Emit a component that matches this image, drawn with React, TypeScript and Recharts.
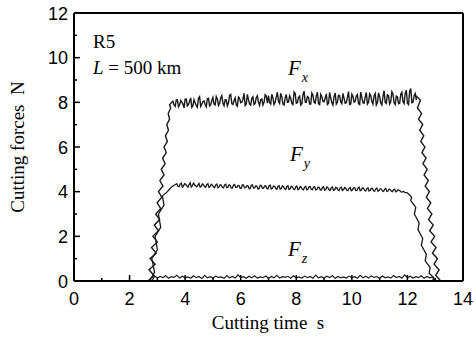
import { Line, LineChart, ReferenceLine, XAxis, YAxis } from "recharts";

// time grid (s) and force readings (N)
const xTicks = [0, 1, 2, 3, 4, 5, 6, 7, 8, 9, 10, 11, 12, 13, 14];
const yTicks = [0, 1, 2, 3, 4, 5, 6, 7, 8, 9, 10, 11, 12];

const fxRiseTime = [
  0, 2.66, 2.88, 2.7, 2.92, 2.74, 2.96, 2.79, 3.0, 2.84, 3.04, 2.89, 3.08, 2.94, 3.12, 2.99, 3.16, 3.04,
  3.2, 3.09, 3.24, 3.14, 3.28, 3.19, 3.32, 3.24, 3.36, 3.29, 3.4, 3.34, 3.44, 3.39, 3.48, 3.44, 3.52,
];
const fxRiseForce = [
  0, 0, 0.25, 0.5, 0.75, 1.0, 1.25, 1.5, 1.75, 2.0, 2.25, 2.5, 2.75, 3.0, 3.25, 3.5, 3.75, 4.0,
  4.25, 4.5, 4.75, 5.0, 5.25, 5.5, 5.75, 6.0, 6.25, 6.5, 6.75, 7.0, 7.25, 7.5, 7.75, 7.9, 8.0,
];
const fxPlateauStart = 3.56;
const fxPlateauStep = 0.08;
const fxPlateau = [
  8.05, 7.82, 8.12, 7.88, 8.02, 7.75, 8.15, 7.9, 8.2, 7.85, 7.98, 7.78, 8.25, 7.92, 8.06, 7.8, 8.18, 7.9,
  8.22, 7.88, 8.15, 7.95, 8.3, 7.85, 8.1, 7.98, 8.35, 7.9, 8.2, 7.82, 8.18, 8.0, 8.4, 7.92, 8.12, 7.88, 8.25, 7.95, 8.3, 7.86, 8.15, 8.0, 8.28,
  8.3, 7.92, 8.2, 8.0, 8.45, 7.95, 8.25, 7.88, 8.35, 8.02, 8.18, 7.9, 8.4, 7.98, 8.28, 7.94, 8.5, 8.0, 8.22, 7.92,
  8.32, 7.96, 8.45, 7.9, 8.25, 8.02, 8.38, 7.95, 8.2, 7.88, 8.42, 8.0, 8.3, 7.94, 8.18, 7.98, 8.48, 7.92, 8.26, 8.04,
  8.35, 7.9, 8.22, 7.96, 8.44, 8.0, 8.3, 7.92, 8.4, 7.98, 8.25, 7.88, 8.52, 7.95, 8.3, 8.02, 8.38, 7.9, 8.24, 7.96,
  8.45, 7.94, 8.55, 7.9, 8.62, 8.0, 8.4,
];
// readings taken halfway between the samples above
const fxPlateauMid = [
  7.88, 8.1, 7.8, 8.08, 7.92, 8.14, 7.84, 8.05, 7.78, 8.12, 7.86, 8.18, 7.82, 8.04, 7.9, 8.16, 7.84, 8.08,
  7.92, 8.26, 7.86, 8.2, 7.96, 8.12, 7.84, 8.32, 7.94, 8.08, 7.88, 8.24, 7.98, 8.14, 7.86, 8.36, 7.92, 8.18, 7.9, 8.22, 8.0, 8.12, 7.88, 8.34, 7.96,
  7.98, 8.36, 7.9, 8.24, 8.04, 8.4, 7.92, 8.2, 8.0, 8.3, 7.94, 8.46, 7.96, 8.22, 7.88, 8.34, 8.02, 8.26, 7.92, 8.42,
  8.0, 8.28, 7.94, 8.36, 8.04, 8.2, 7.9, 8.44, 7.98, 8.26, 7.92, 8.32, 8.02, 8.4, 7.96, 8.22, 7.9, 8.36, 8.0, 8.28,
  7.94, 8.46, 7.98, 8.24, 7.92, 8.38, 8.04, 8.3, 7.88, 8.42, 7.96, 8.26, 8.0, 8.34, 7.92, 8.48, 7.98, 8.28, 7.94, 8.36,
  8.02, 8.4, 7.96, 8.5, 7.98, 8.3, 8.1,
];
const fxFallTime = [
  12.3, 12.47, 12.36, 12.51, 12.4, 12.55, 12.44, 12.59, 12.48, 12.63, 12.52, 12.67, 12.56, 12.71, 12.6, 12.75, 12.64, 12.79,
  12.68, 12.84, 12.72, 12.88, 12.76, 12.93, 12.8, 12.98, 12.85, 13.03, 12.9, 13.08, 12.96, 13.14, 13.02, 13.2, 14,
];
const fxFallForce = [
  8.3, 8.1, 7.75, 7.5, 7.25, 7.0, 6.75, 6.5, 6.25, 6.0, 5.75, 5.5, 5.25, 5.0, 4.75, 4.5, 4.25, 4.0,
  3.75, 3.5, 3.25, 3.0, 2.75, 2.5, 2.25, 2.0, 1.75, 1.5, 1.25, 1.0, 0.75, 0.5, 0.25, 0, 0,
];

const fyRiseTime = [0, 2.72, 2.9, 2.8, 3.0, 2.92, 3.12, 3.04, 3.24, 3.18, 3.36, 3.5, 3.62];
const fyRiseForce = [0, 0, 0.4, 1.0, 1.4, 2.0, 2.4, 3.0, 3.4, 3.8, 4.0, 4.2, 4.3];
const fyPlateauStart = 3.7;
const fyPlateauStep = 0.08;
const fyPlateau = [
  4.36, 4.22, 4.38, 4.25, 4.33, 4.2, 4.4, 4.26, 4.31, 4.22, 4.37, 4.24, 4.3, 4.19, 4.35, 4.23, 4.29, 4.18, 4.34, 4.21,
  4.3, 4.17, 4.33, 4.2, 4.28, 4.16, 4.32, 4.19, 4.27, 4.15, 4.3, 4.18, 4.26, 4.14, 4.31, 4.17, 4.25, 4.13, 4.28, 4.16,
  4.26, 4.12, 4.29, 4.15, 4.24, 4.11, 4.27, 4.14, 4.22, 4.1, 4.26, 4.13, 4.21, 4.09, 4.25, 4.12, 4.2, 4.08, 4.24, 4.11,
  4.22, 4.09, 4.23, 4.1, 4.19, 4.07, 4.22, 4.09, 4.18, 4.06, 4.21, 4.08, 4.17, 4.05, 4.2, 4.08, 4.16, 4.04, 4.19, 4.07,
  4.18, 4.05, 4.2, 4.07, 4.15, 4.03, 4.17, 4.06, 4.14, 4.02, 4.16, 4.05, 4.12, 4.01, 4.14, 4.03, 4.1, 4.0, 4.11, 4.02,
  4.06, 3.98, 4.02,
];
const fyPlateauMid = [
  4.24, 4.34, 4.2, 4.36, 4.27, 4.32, 4.21, 4.38, 4.25, 4.3, 4.2, 4.35, 4.24, 4.32, 4.19, 4.33, 4.22, 4.3, 4.18, 4.31,
  4.2, 4.3, 4.18, 4.31, 4.16, 4.29, 4.19, 4.28, 4.15, 4.31, 4.17, 4.27, 4.14, 4.29, 4.16, 4.26, 4.13, 4.28, 4.15, 4.25,
  4.14, 4.27, 4.12, 4.25, 4.14, 4.24, 4.11, 4.26, 4.13, 4.22, 4.1, 4.24, 4.12, 4.21, 4.09, 4.23, 4.11, 4.2, 4.08, 4.22,
  4.1, 4.21, 4.08, 4.2, 4.09, 4.19, 4.07, 4.21, 4.08, 4.18, 4.06, 4.19, 4.07, 4.17, 4.05, 4.18, 4.06, 4.16, 4.04, 4.17,
  4.06, 4.16, 4.04, 4.17, 4.05, 4.13, 4.03, 4.15, 4.04, 4.12, 4.02, 4.13, 4.03, 4.11, 4.01, 4.12, 4.02, 4.09, 3.99, 4.08,
  4.03, 3.99, 3.97,
];
const fyFallTime = [12.0, 12.15, 12.12, 12.3, 12.25, 12.42, 12.38, 12.55, 12.5, 12.68, 12.64, 12.82, 12.78, 12.95, 12.92, 13.05, 14];
const fyFallForce = [3.95, 3.75, 3.6, 3.3, 3.0, 2.6, 2.3, 1.9, 1.6, 1.2, 0.9, 0.6, 0.35, 0.15, 0.05, 0, 0];

const fzStart = 2.9;
const fzStep = 0.1;
const fzPlateau = [
  0.22, 0.13, 0.2, 0.15, 0.24, 0.12, 0.19, 0.16, 0.26, 0.13,
  0.21, 0.14, 0.18, 0.12, 0.23, 0.15, 0.2, 0.11, 0.25, 0.14,
  0.19, 0.13, 0.22, 0.16, 0.18, 0.12, 0.24, 0.14, 0.2, 0.13,
  0.27, 0.15, 0.19, 0.12, 0.21, 0.14, 0.23, 0.13, 0.18, 0.15,
  0.22, 0.12, 0.2, 0.14, 0.25, 0.13, 0.19, 0.16, 0.21, 0.12,
  0.23, 0.14, 0.18, 0.13, 0.22, 0.15, 0.2, 0.12, 0.26, 0.14,
  0.19, 0.13, 0.21, 0.15, 0.24, 0.12, 0.2, 0.14, 0.18, 0.13,
  0.22, 0.15, 0.19, 0.12, 0.25, 0.14, 0.21, 0.13, 0.23, 0.16,
  0.2, 0.12, 0.22, 0.14, 0.18, 0.13, 0.24, 0.15, 0.2, 0.12,
  0.27, 0.14, 0.21, 0.13, 0.19, 0.15, 0.23, 0.12, 0.2, 0.14,
  0.18,
];
const fzEdgeTime = [0, 2.8, 13.0, 14];
const fzEdgeForce = [0, 0, 0, 0];

const pairs = (ts: number[], vs: number[]) => ts.map((t, i) => ({ t, v: vs[i] }));
const sampled = (start: number, step: number, vs: number[], mid: number[] = []) => {
  const out: { t: number; v: number }[] = [];
  vs.forEach((v, i) => {
    out.push({ t: +(start + i * step).toFixed(3), v });
    if (i < mid.length) out.push({ t: +(start + (i + 0.5) * step).toFixed(3), v: mid[i] });
  });
  return out;
};

const fxData = [
  ...pairs(fxRiseTime, fxRiseForce),
  ...sampled(fxPlateauStart, fxPlateauStep, fxPlateau, fxPlateauMid),
  ...pairs(fxFallTime, fxFallForce),
];
const fyData = [
  ...pairs(fyRiseTime, fyRiseForce),
  ...sampled(fyPlateauStart, fyPlateauStep, fyPlateau, fyPlateauMid),
  ...pairs(fyFallTime, fyFallForce),
];
const fzData = [
  ...pairs(fzEdgeTime.slice(0, 2), fzEdgeForce.slice(0, 2)),
  ...sampled(fzStart, fzStep, fzPlateau),
  ...pairs(fzEdgeTime.slice(2), fzEdgeForce.slice(2)),
];

const SANS = "'Liberation Sans', Arial, sans-serif";
const SERIF = "'Liberation Serif', 'Times New Roman', serif";

function XTick({ x, y, payload }: any) {
  const major = payload.value % 2 === 0;
  return (
    <g>
      <line x1={x} y1={y} x2={x} y2={y - (major ? 6 : 3)} stroke="#000" strokeWidth={1.5} />
      {major && (
        <text x={x} y={y + 24} textAnchor="middle" fontFamily={SANS} fontSize={18} fill="#000">
          {payload.value}
        </text>
      )}
    </g>
  );
}

function YTick({ x, y, payload }: any) {
  const major = payload.value % 2 === 0;
  return (
    <g>
      <line x1={x} y1={y} x2={x + (major ? 6 : 3)} y2={y} stroke="#000" strokeWidth={1.5} />
      {major && (
        <text x={x - 6} y={y + 6.5} textAnchor="end" fontFamily={SANS} fontSize={18} fill="#000">
          {payload.value}
        </text>
      )}
    </g>
  );
}

function ForceLabel({ x, y, sub }: { x: number; y: number; sub: string }) {
  return (
    <text x={x} y={y} fontFamily={SERIF} fontStyle="italic" fontSize={21} fill="#000">
      F
      <tspan dx={1} dy={7} fontSize={14}>
        {sub}
      </tspan>
    </text>
  );
}

export default function App() {
  return (
    <div style={{ position: "absolute", left: 0, top: 0, background: "#fff" }}>
      <LineChart width={476} height={341} margin={{ top: 13, right: 13, bottom: 30, left: 30 }}>
        <XAxis
          type="number"
          dataKey="t"
          height={30}
          domain={[0, 14]}
          ticks={xTicks}
          interval={0}
          allowDataOverflow
          tickLine={false}
          tickSize={0}
          tickMargin={0}
          tick={<XTick />}
          axisLine={{ stroke: "#000", strokeWidth: 2 }}
        />
        <YAxis
          type="number"
          dataKey="v"
          width={44}
          domain={[0, 12]}
          ticks={yTicks}
          interval={0}
          allowDataOverflow
          tickLine={false}
          tickSize={0}
          tickMargin={0}
          tick={<YTick />}
          axisLine={{ stroke: "#000", strokeWidth: 2 }}
        />
        <ReferenceLine y={12} stroke="#000" strokeWidth={2} />
        <ReferenceLine x={14} stroke="#000" strokeWidth={2} />
        <Line data={fzData} dataKey="v" type="linear" stroke="#1a1a1a" strokeWidth={1.2} dot={false} isAnimationActive={false} />
        <Line data={fyData} dataKey="v" type="linear" stroke="#1a1a1a" strokeWidth={1.3} dot={false} isAnimationActive={false} />
        <Line data={fxData} dataKey="v" type="linear" stroke="#1a1a1a" strokeWidth={1.4} dot={false} isAnimationActive={false} />
        <text x={93} y={48} fontFamily={SERIF} fontSize={19} fill="#000">R5</text>
        <text x={93} y={74} fontFamily={SERIF} fontSize={19} fill="#000">
          <tspan fontStyle="italic">L</tspan> = 500 km
        </text>
        <ForceLabel x={288} y={75} sub="x" />
        <ForceLabel x={290} y={161} sub="y" />
        <ForceLabel x={288} y={256} sub="z" />
        <text x={268} y={329} textAnchor="middle" fontFamily={SERIF} fontSize={19} fill="#000">
          {"Cutting time\u00a0\u00a0s"}
        </text>
        <text
          x={24}
          y={147}
          textAnchor="middle"
          transform="rotate(-90 24 147)"
          fontFamily={SERIF}
          fontSize={19}
          fill="#000"
        >
          {"Cutting forces\u00a0\u00a0N"}
        </text>
      </LineChart>
    </div>
  );
}
